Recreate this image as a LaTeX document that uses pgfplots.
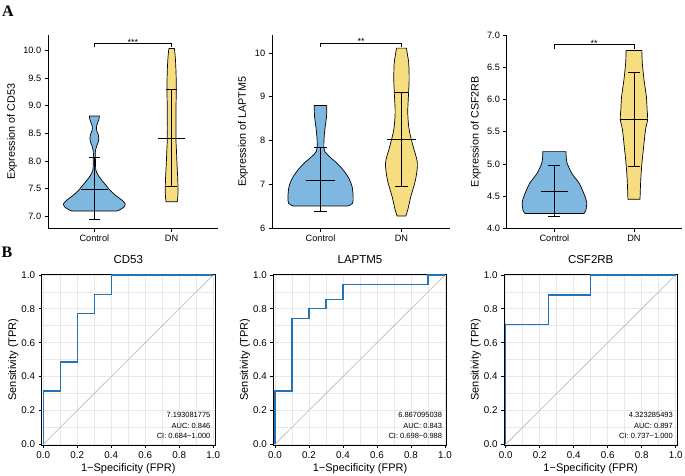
\documentclass[border=0pt]{standalone}
\usepackage{fontspec}
\setmainfont{Liberation Sans}
\newfontfamily\seriffont{Liberation Serif}
\usepackage{pgfplots}
\usepackage{pgfplotstable}
\pgfplotsset{compat=1.18}
\usepgfplotslibrary{fillbetween}

\definecolor{vblue}{RGB}{126,183,224}
\definecolor{vyellow}{RGB}{246,221,128}
\definecolor{rocblue}{RGB}{34,114,186}
\definecolor{gridc}{RGB}{232,232,232}
\definecolor{diagc}{RGB}{195,195,195}
\newcommand{\fs}[1]{\fontsize{#1}{#1}\selectfont}

% violin outlines: y value and half-width (x units)
\pgfplotstableread{
y w
7.09 0.29
7.11 0.325
7.16 0.38
7.22 0.40
7.29 0.355
7.38 0.27
7.48 0.195
7.56 0.15
7.65 0.095
7.74 0.05
7.83 0.02
7.95 0.015
8.06 0.013
8.17 0.013
8.27 0.03
8.34 0.05
8.41 0.058
8.48 0.05
8.55 0.03
8.62 0.026
8.70 0.045
8.76 0.06
8.815 0.065
}\cdCtrl
\pgfplotstableread{
y w
7.26 0.073
7.35 0.08
7.45 0.082
7.53 0.082
7.71 0.078
7.96 0.069
8.20 0.062
8.41 0.056
8.86 0.056
9.30 0.06
9.55 0.058
9.77 0.052
9.92 0.045
10.04 0.035
}\cdDN
\pgfplotstableread{
y w
6.51 0.34
6.57 0.395
6.72 0.403
6.95 0.39
7.14 0.35
7.33 0.28
7.49 0.20
7.64 0.107
7.75 0.053
7.85 0.041
8.09 0.045
8.32 0.058
8.55 0.074
8.80 0.078
}\laCtrl
\pgfplotstableread{
y w
6.28 0.053
6.42 0.078
6.72 0.115
7.10 0.173
7.49 0.197
7.87 0.144
8.25 0.095
8.63 0.078
9.01 0.086
9.39 0.095
9.77 0.09
9.95 0.075
10.11 0.062
}\laDN
\pgfplotstableread{
y w
4.23 0.37
4.28 0.395
4.41 0.405
4.54 0.37
4.70 0.31
4.85 0.22
5.01 0.16
5.11 0.148
5.19 0.146
}\csCtrl
\pgfplotstableread{
y w
4.45 0.076
4.75 0.085
5.01 0.10
5.27 0.122
5.53 0.145
5.69 0.172
5.84 0.165
6.04 0.156
6.30 0.127
6.56 0.105
6.76 0.099
}\csDN

\pgfplotsset{
  violinax/.style={
    scale only axis, anchor=south west, height=193.3pt,
    xmin=0.4, xmax=2.6, clip=false,
    axis x line*=bottom, axis y line*=left,
    axis line style={line width=0.7pt, -},
    every tick/.style={black, line width=0.7pt},
    tick align=outside, major tick length=3.3pt,
    xtick={1,2}, xticklabels={Control,DN},
    tick label style={font=\fs{9.2}},
    /pgf/number format/assume math mode=true,
    ylabel style={font=\fs{10.8}, anchor=center},
  },
  rocax/.style={
    scale only axis, anchor=south west, width=173.4pt, height=171pt,
    xmin=-0.01, xmax=1.01, ymin=-0.005, ymax=1.005,
    axis line style={line width=1pt},
    every tick/.style={black, line width=0.7pt},
    tick align=outside, major tick length=3pt, minor tick length=0pt,
    xtick pos=lower, ytick pos=left,
    xtick={0,0.2,0.4,0.6,0.8,1}, ytick={0,0.2,0.4,0.6,0.8,1},
    minor xtick={0.1,0.3,0.5,0.7,0.9}, minor ytick={0.1,0.3,0.5,0.7,0.9},
    grid=both, major grid style={gridc, line width=0.7pt},
    minor grid style={gridc, line width=0.5pt},
    tick label style={font=\fs{9.8}},
    /pgf/number format/assume math mode=true,
    xticklabel style={/pgf/number format/.cd, fixed, fixed zerofill, precision=1},
    yticklabel style={/pgf/number format/.cd, fixed, fixed zerofill, precision=1},
    xlabel={1−Specificity (FPR)}, ylabel={Sensitivity (TPR)},
    xlabel style={font=\fs{11}, at={(axis description cs:0.5,0)}, anchor=center, yshift=-23.5pt},
    ylabel style={font=\fs{11}, at={(axis description cs:-0.163,0.5)}, anchor=center},
    title style={font=\fs{11.5}, at={(axis description cs:0.5,1)}, anchor=center, yshift=8.5pt},
  },
  vl/.style={draw=none, smooth},
  vio/.style={draw=black, line width=0.7pt},
  ebar/.style={black, line width=0.9pt, unbounded coords=jump},
}

\begin{document}
\begin{tikzpicture}[x=1pt,y=1pt]

% ---------------- A1 CD53
\begin{axis}[violinax, at={(48pt,246.7pt)}, width=170pt,
  ymin=6.777, ymax=10.285, ytick={7,7.5,8,8.5,9,9.5,10},
  yticklabel style={/pgf/number format/.cd, fixed, fixed zerofill, precision=1},
  ylabel={Expression of CD53},
  ylabel style={at={(axis description cs:-0.212,0.5)}}]
\addplot[vl, name path=a1l] table[x expr=1-\thisrow{w}, y=y]{\cdCtrl};
\addplot[vl, name path=a1r] table[x expr=1+\thisrow{w}, y=y]{\cdCtrl};
\addplot[vio, fill=vblue] fill between[of=a1l and a1r, reverse=true];
\addplot[vl, name path=a2l] table[x expr=2-\thisrow{w}, y=y]{\cdDN};
\addplot[vl, name path=a2r] table[x expr=2+\thisrow{w}, y=y]{\cdDN};
\addplot[vio, fill=vyellow] fill between[of=a2l and a2r, reverse=true];
\addplot[ebar] coordinates {
  (1,6.94)(1,8.06) (1,nan) (0.925,6.94)(1.075,6.94) (1,nan)
  (0.925,8.06)(1.075,8.06) (1,nan) (0.826,7.49)(1.174,7.49) (1,nan)
  (2,7.53)(2,9.30) (2,nan) (1.925,7.53)(2.075,7.53) (2,nan)
  (1.925,9.30)(2.075,9.30) (2,nan) (1.826,8.41)(2.174,8.41)};
\addplot[black, line width=0.7pt] coordinates {(1,10.06)(1,10.13)(2,10.13)(2,10.06)};
\node[font=\fs{9}, anchor=base, inner sep=0pt, yshift=-2pt] at (axis cs:1.5,10.13) {***};
\end{axis}

% ---------------- A2 LAPTM5
\begin{axis}[violinax, at={(272pt,246.7pt)}, width=178pt,
  ymin=6, ymax=10.41, ytick={6,7,8,9,10},
  ylabel={Expression of LAPTM5},
  ylabel style={at={(axis description cs:-0.163,0.5)}}]
\addplot[vl, name path=b1l] table[x expr=1-\thisrow{w}, y=y]{\laCtrl};
\addplot[vl, name path=b1r] table[x expr=1+\thisrow{w}, y=y]{\laCtrl};
\addplot[vio, fill=vblue] fill between[of=b1l and b1r, reverse=true];
\addplot[vl, name path=b2l] table[x expr=2-\thisrow{w}, y=y]{\laDN};
\addplot[vl, name path=b2r] table[x expr=2+\thisrow{w}, y=y]{\laDN};
\addplot[vio, fill=vyellow] fill between[of=b2l and b2r, reverse=true];
\addplot[ebar] coordinates {
  (1,6.38)(1,7.85) (1,nan) (0.925,6.38)(1.075,6.38) (1,nan)
  (0.925,7.85)(1.075,7.85) (1,nan) (0.825,7.10)(1.175,7.10) (1,nan)
  (2,6.95)(2,9.11) (2,nan) (1.925,6.95)(2.075,6.95) (2,nan)
  (1.925,9.11)(2.075,9.11) (2,nan) (1.825,8.03)(2.175,8.03)};
\addplot[black, line width=0.7pt] coordinates {(1,10.14)(1,10.23)(2,10.23)(2,10.14)};
\node[font=\fs{9}, anchor=base, inner sep=0pt, yshift=-2pt] at (axis cs:1.5,10.23) {**};
\end{axis}

% ---------------- A3 CSF2RB
\begin{axis}[violinax, at={(506.7pt,246.7pt)}, width=175pt,
  ymin=4, ymax=7, ytick={4,4.5,5,5.5,6,6.5,7},
  yticklabel style={/pgf/number format/.cd, fixed, fixed zerofill, precision=1},
  ylabel={Expression of CSF2RB},
  ylabel style={at={(axis description cs:-0.177,0.5)}}]
\addplot[vl, name path=c1l] table[x expr=1-\thisrow{w}, y=y]{\csCtrl};
\addplot[vl, name path=c1r] table[x expr=1+\thisrow{w}, y=y]{\csCtrl};
\addplot[vio, fill=vblue] fill between[of=c1l and c1r, reverse=true];
\addplot[vl, name path=c2l] table[x expr=2-\thisrow{w}, y=y]{\csDN};
\addplot[vl, name path=c2r] table[x expr=2+\thisrow{w}, y=y]{\csDN};
\addplot[vio, fill=vyellow] fill between[of=c2l and c2r, reverse=true];
\addplot[ebar] coordinates {
  (1,4.18)(1,4.97) (1,nan) (0.925,4.18)(1.075,4.18) (1,nan)
  (0.925,4.97)(1.075,4.97) (1,nan) (0.825,4.57)(1.175,4.57) (1,nan)
  (2,4.96)(2,6.42) (2,nan) (1.925,4.96)(2.075,4.96) (2,nan)
  (1.925,6.42)(2.075,6.42) (2,nan) (1.825,5.69)(2.175,5.69)};
\addplot[black, line width=0.7pt] coordinates {(1,6.78)(1,6.85)(2,6.85)(2,6.78)};
\node[font=\fs{9}, anchor=base, inner sep=0pt, yshift=-2pt] at (axis cs:1.5,6.85) {**};
\end{axis}

% ---------------- B1 CD53 ROC
\begin{axis}[rocax, at={(41.6pt,29.9pt)}, title={CD53}]
\addplot[diagc, line width=0.8pt] coordinates {(0,0)(1,1)};
\addplot[rocblue, line width=1.3pt] coordinates {(0,0)(0,0.314)(0.1,0.314)(0.1,0.486)(0.2,0.486)(0.2,0.771)(0.3,0.771)(0.3,0.886)(0.4,0.886)(0.4,1)(1,1)};
\node[anchor=east, font=\fs{7.5}, inner sep=0pt] at (axis cs:0.984,0.173) {7.193081775};
\node[anchor=east, font=\fs{7.5}, inner sep=0pt] at (axis cs:0.984,0.110) {AUC: 0.846};
\node[anchor=east, font=\fs{7.5}, inner sep=0pt] at (axis cs:0.984,0.049) {CI: 0.684−1.000};
\end{axis}

% ---------------- B2 LAPTM5 ROC
\begin{axis}[rocax, at={(273.3pt,29.9pt)}, title={LAPTM5}]
\addplot[diagc, line width=0.8pt] coordinates {(0,0)(1,1)};
\addplot[rocblue, line width=1.3pt] coordinates {(0,0)(0,0.314)(0.1,0.314)(0.1,0.743)(0.2,0.743)(0.2,0.8)(0.3,0.8)(0.3,0.857)(0.4,0.857)(0.4,0.943)(0.9,0.943)(0.9,1)(1,1)};
\node[anchor=east, font=\fs{7.5}, inner sep=0pt] at (axis cs:0.984,0.173) {6.867095038};
\node[anchor=east, font=\fs{7.5}, inner sep=0pt] at (axis cs:0.984,0.110) {AUC: 0.843};
\node[anchor=east, font=\fs{7.5}, inner sep=0pt] at (axis cs:0.984,0.049) {CI: 0.698−0.988};
\end{axis}

% ---------------- B3 CSF2RB ROC
\begin{axis}[rocax, at={(504pt,29.9pt)}, title={CSF2RB}]
\addplot[diagc, line width=0.8pt] coordinates {(0,0)(1,1)};
\addplot[rocblue, line width=1.3pt] coordinates {(0,0)(0,0.706)(0.25,0.706)(0.25,0.882)(0.5,0.882)(0.5,1)(1,1)};
\node[anchor=east, font=\fs{7.5}, inner sep=0pt] at (axis cs:0.984,0.173) {4.323285493};
\node[anchor=east, font=\fs{7.5}, inner sep=0pt] at (axis cs:0.984,0.110) {AUC: 0.897};
\node[anchor=east, font=\fs{7.5}, inner sep=0pt] at (axis cs:0.984,0.049) {CI: 0.737−1.000};
\end{axis}

\node[font=\seriffont\bfseries\fs{16}] at (8,463.5) {A};
\node[font=\seriffont\bfseries\fs{16}] at (7,222.5) {B};
\pgfresetboundingbox
\path[use as bounding box] (0,0) rectangle (685,475);
\end{tikzpicture}
\end{document}
